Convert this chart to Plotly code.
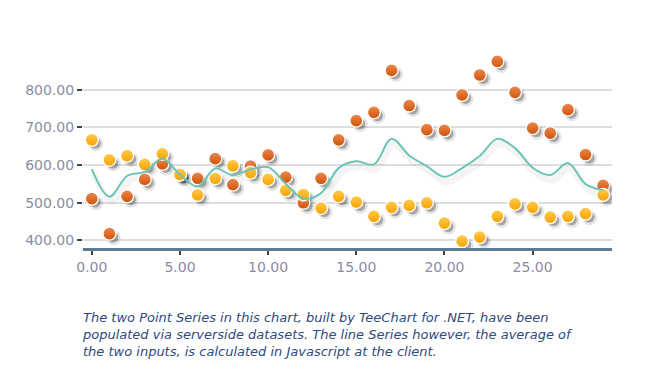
import plotly.graph_objects as go

# ---- data ----
x_vals = list(range(30))
series_red = [511, 418, 517, 562, 603, 575, 565, 617, 548, 597,
              627, 568, 500, 565, 667, 718, 740, 851, 758, 694,
              692, 786, 839, 875, 793, 698, 685, 747, 628, 546]
series_yellow = [667, 614, 625, 602, 630, 575, 521, 565, 598, 580,
                 562, 533, 522, 486, 517, 502, 464, 488, 493, 500,
                 446, 398, 409, 464, 497, 488, 462, 464, 471, 521]
# line series: average of the two inputs (as the chart describes)
series_avg = [(a + b) / 2 for a, b in zip(series_red, series_yellow)]

x_tickvals = [0, 5, 10, 15, 20, 25]
y_tickvals = [400, 500, 600, 700, 800]

caption = ("The two Point Series in this chart, built by TeeChart for .NET, have been<br>"
           "populated via serverside datasets. The line Series however, the average of<br>"
           "the two inputs, is calculated in Javascript at the client.")

# ---- layout constants (page body has an 8px margin) ----
W, H = 657, 379
ML, MR, MT, MB = 75, 53, 44, 139
X_RANGE = [-0.5, 29.5]
Y_RANGE = [380, 900]
px_x = (X_RANGE[1] - X_RANGE[0]) / (W - ML - MR)
px_y = (Y_RANGE[1] - Y_RANGE[0]) / (H - MT - MB)

def shift(vals, d):
    return [v + d for v in vals]

fig = go.Figure()

# soft shadow for the line
fig.add_trace(go.Scatter(
    x=shift(x_vals, 2 * px_x), y=shift(series_avg, -5 * px_y), mode="lines",
    line=dict(color="rgba(0,0,0,0.045)", width=7, shape="spline"),
    hoverinfo="skip", showlegend=False))

# shadows for points
for s in (series_red, series_yellow):
    fig.add_trace(go.Scatter(
        x=shift(x_vals, 4 * px_x), y=shift(s, -4 * px_y), mode="markers",
        marker=dict(size=15, color="rgba(0,0,0,0.10)", line=dict(width=0)),
        hoverinfo="skip", showlegend=False))
    fig.add_trace(go.Scatter(
        x=shift(x_vals, 3.5 * px_x), y=shift(s, -3.5 * px_y), mode="markers",
        marker=dict(size=11, color="rgba(0,0,0,0.28)", line=dict(width=0)),
        hoverinfo="skip", showlegend=False))

# point series
fig.add_trace(go.Scatter(
    x=x_vals, y=series_red, mode="markers", name="Series1",
    marker=dict(size=13, color="#EC8A52",
                gradient=dict(type="vertical", color="#D05206"),
                line=dict(color="white", width=1.3)),
    showlegend=False))
fig.add_trace(go.Scatter(
    x=x_vals, y=series_yellow, mode="markers", name="Series2",
    marker=dict(size=13, color="#FFCB50",
                gradient=dict(type="vertical", color="#F9A200"),
                line=dict(color="white", width=1.3)),
    showlegend=False))

# average line
fig.add_trace(go.Scatter(
    x=x_vals, y=series_avg, mode="lines", name="Average",
    line=dict(color="#6CC4B6", width=2, shape="spline"),
    showlegend=False))

tickfont = dict(family="DejaVu Sans", size=14, color="#8c8ca2")

fig.update_layout(
    width=W, height=H,
    margin=dict(l=ML, r=MR, t=MT, b=MB),
    paper_bgcolor="white", plot_bgcolor="white",
    showlegend=False,
    xaxis=dict(range=X_RANGE, tickvals=x_tickvals, tickformat=".2f",
               showgrid=False, zeroline=False,
               showline=True, linecolor="#5b7d98", linewidth=2.5,
               ticks="outside", ticklen=4, tickwidth=1.5, tickcolor="#444",
               tickfont=tickfont),
    yaxis=dict(range=Y_RANGE, tickvals=y_tickvals, tickformat=".2f",
               showgrid=True, gridcolor="#dedede", gridwidth=1.5,
               zeroline=False, showline=False,
               ticks="outside", ticklen=5, tickwidth=1.5, tickcolor="#444",
               tickfont=tickfont),
    annotations=[dict(
        text="<i>" + caption + "</i>", xref="paper", yref="paper",
        x=-3 / (W - ML - MR), y=-60 / (H - MT - MB),
        xanchor="left", yanchor="top", align="left", showarrow=False,
        font=dict(family="DejaVu Sans", size=13, color="#2f4a7c"))],
)

fig.write_html("out.html")
